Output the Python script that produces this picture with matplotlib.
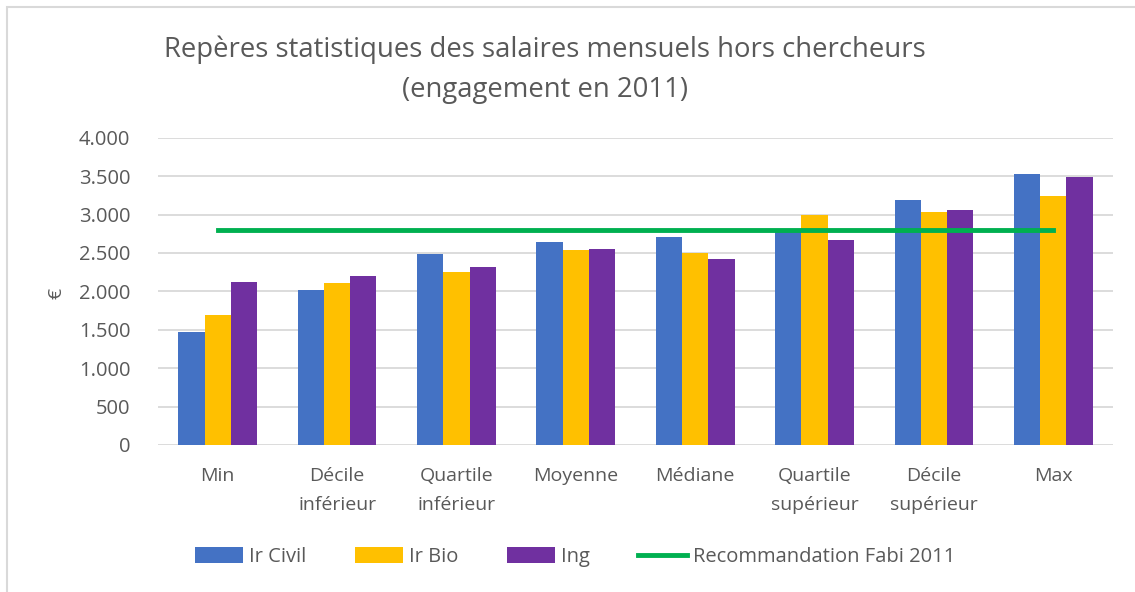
import matplotlib
matplotlib.use("Agg")
import matplotlib.pyplot as plt
import numpy as np
from matplotlib.patches import Rectangle

categories = ["Min", "Décile\ninférieur", "Quartile\ninférieur", "Moyenne", "Médiane",
              "Quartile\nsupérieur", "Décile\nsupérieur", "Max"]
ir_civil = [1470, 2020, 2490, 2645, 2710, 2790, 3190, 3530]
ir_bio = [1690, 2110, 2250, 2540, 2500, 2995, 3035, 3245]
ing = [2120, 2200, 2320, 2550, 2420, 2670, 3060, 3490]
recommandation = [2800] * 8
series_names = ["Ir Civil", "Ir Bio", "Ing", "Recommandation Fabi 2011"]
yticks = [0, 500, 1000, 1500, 2000, 2500, 3000, 3500, 4000]

W, H = 1135, 592
fig = plt.figure(figsize=(W / 100, H / 100), dpi=100)
plt.rcParams['font.family'] = ['Open Sans', 'DejaVu Sans']
grey = "#595959"

ax = fig.add_axes([158 / W, 1 - 445 / H, (1113 - 158) / W, (445 - 137.7) / H])
x = np.arange(len(categories))
bw = 0.22
b1 = ax.bar(x - bw, ir_civil, bw, color="#4472C4", label=series_names[0], zorder=2)
b2 = ax.bar(x, ir_bio, bw, color="#FFC000", label=series_names[1], zorder=2)
b3 = ax.bar(x + bw, ing, bw, color="#7030A0", label=series_names[2], zorder=2)
l1, = ax.plot(x, recommandation, color="#00B050", lw=3.5, label=series_names[3], zorder=3)

ax.set_xlim(-0.5, len(categories) - 0.5)
ax.set_ylim(0, 4000)
ax.set_yticks(yticks)
ax.set_yticklabels([f"{v:,}".replace(",", ".") for v in yticks], color=grey, fontsize=14.5)
ax.set_xticks(x)
ax.set_xticklabels(categories, color=grey, fontsize=14, linespacing=1.75)
ax.tick_params(axis="both", length=0)
ax.tick_params(axis="y", pad=20)
ax.tick_params(axis="x", pad=16)
ax.yaxis.grid(True, color="#D9D9D9", lw=1.3, zorder=0)
ax.set_axisbelow(True)
for s in ax.spines.values():
    s.set_visible(False)

fig.text(57 / W, 1 - 293 / H, "€", rotation=90, ha="center", va="center", color=grey, fontsize=14)

fig.text(545 / W, 1 - 50 / H, "Repères statistiques des salaires mensuels hors chercheurs",
         ha="center", va="center", color=grey, fontsize=19.8)
fig.text(545 / W, 1 - 90 / H, "(engagement en 2011)",
         ha="center", va="center", color=grey, fontsize=19.8)

leg = fig.legend(handles=[b1, b2, b3, l1], labels=series_names, loc="center",
                 bbox_to_anchor=(575 / W, 1 - 557 / H), ncol=4, frameon=False,
                 fontsize=14.5, handlelength=2.4, handleheight=0.8, columnspacing=2.4,
                 handletextpad=0.3)
for t in leg.get_texts():
    t.set_color(grey)

fig.patches.append(Rectangle((7 / W, -0.1), 1.2, 1 - 7 / H + 0.1, transform=fig.transFigure,
                             fill=False, edgecolor="#D9D9D9", lw=1.5))

fig.savefig("out.png", dpi=100)
